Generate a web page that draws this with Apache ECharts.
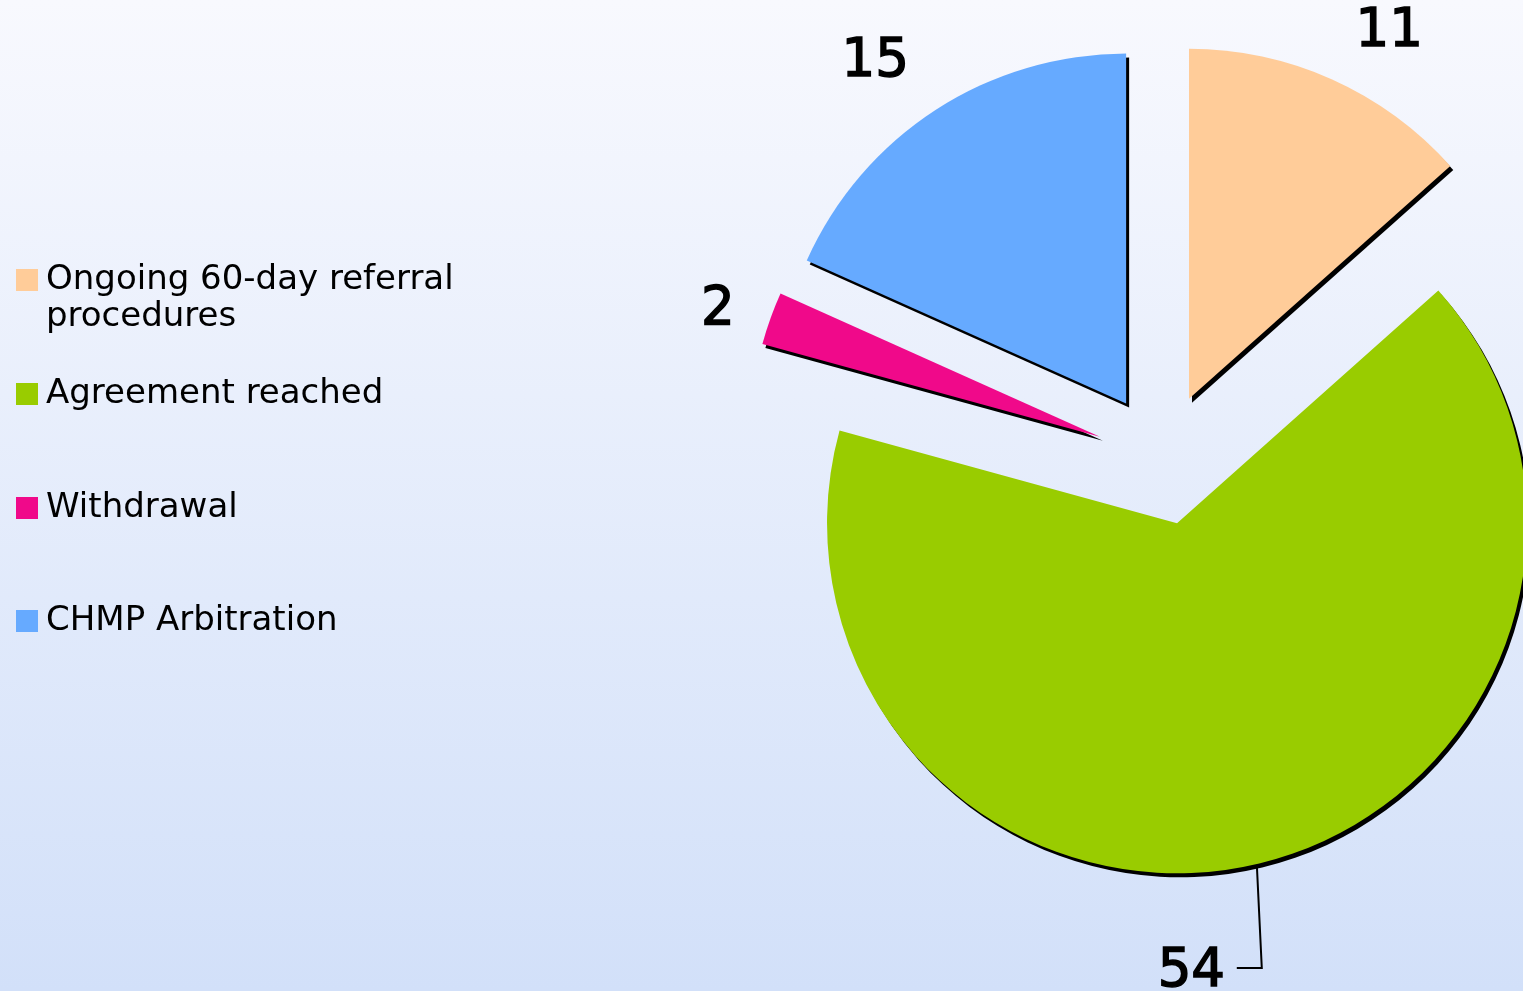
<!DOCTYPE html>
<html>
<head>
<meta charset="utf-8">
<script src="https://cdn.jsdelivr.net/npm/echarts@6/dist/echarts.min.js"></script>
<style>
  html, body { margin: 0; padding: 0; }
  #chart {
    width: 1523px;
    height: 991px;
    background: linear-gradient(to bottom, #F8F9FE 0%, #D2E0F9 100%);
  }
</style>
</head>
<body>
<div id="chart"></div>
<script>
// data
const categories = ['Ongoing 60-day referral procedures', 'Agreement reached', 'Withdrawal', 'CHMP Arbitration'];
const values = [11, 54, 2, 15];
const colors = ['#FFCC99', '#99CC00', '#F0098A', '#66AAFF'];

// label placement tuning (style, not data)
const lineLen = [52, 111, 23, 57];
const lineLen2 = [2, -57, 14, -4];

const font = '"DejaVu Sans", Verdana, sans-serif';

const chart = echarts.init(document.getElementById('chart'));

const pieData = categories.map((name, i) => ({
  name: name,
  value: values[i],
  selected: true,
  itemStyle: { color: colors[i] },
  labelLine: { show: i === 1, length: lineLen[i], length2: lineLen2[i] }
}));

// one legend per entry; a blank first line keeps the icon level with the first text line
const legendTops = [224.5, 375.5, 489.5, 602.5];
const legends = categories.map((name, i) => ({
  data: [name],
  orient: 'vertical',
  left: 16,
  top: legendTops[i],
  padding: 0,
  itemWidth: 22,
  itemHeight: 22,
  icon: 'rect',
  selectedMode: false,
  formatter: i === 0 ? ' \nOngoing 60-day referral\nprocedures' : '{name}',
  textStyle: {
    fontFamily: font,
    fontSize: 34,
    lineHeight: 37,
    color: '#000',
    padding: [0, 0, 0, 3]
  }
}));

chart.setOption({
  animation: false,
  backgroundColor: 'transparent',
  legend: legends,
  series: [{
    type: 'pie',
    center: [1162, 459],
    radius: 350,
    startAngle: 90,
    clockwise: true,
    selectedMode: 'multiple',
    selectedOffset: 66,
    avoidLabelOverlap: false,
    itemStyle: {
      borderWidth: 0,
      shadowColor: '#000',
      shadowBlur: 0,
      shadowOffsetX: 3,
      shadowOffsetY: 4
    },
    select: {
      itemStyle: {
        borderWidth: 0,
        shadowColor: '#000',
        shadowBlur: 0,
        shadowOffsetX: 3,
        shadowOffsetY: 4
      }
    },
    emphasis: { scale: false },
    label: {
      show: true,
      position: 'outside',
      formatter: '{c}',
      fontFamily: font,
      fontSize: 53,
      color: '#000',
      textBorderColor: '#000',
      textBorderWidth: 1.5,
      distanceToLabelLine: 0
    },
    labelLine: {
      lineStyle: { color: '#000', width: 2 }
    },
    // the big slice's leader goes straight down, then left to its number
    labelLayout: function (p) {
      if (p.dataIndex !== 1 || !p.labelLinePoints) return {};
      const s = p.labelLinePoints[0];
      const bend = [s[0] + 5, s[1] + 104];
      const end = [s[0] - 20, s[1] + 104];
      return {
        align: 'right',
        labelLinePoints: [s, bend, end]
      };
    },
    data: pieData
  }]
});
</script>
</body>
</html>
